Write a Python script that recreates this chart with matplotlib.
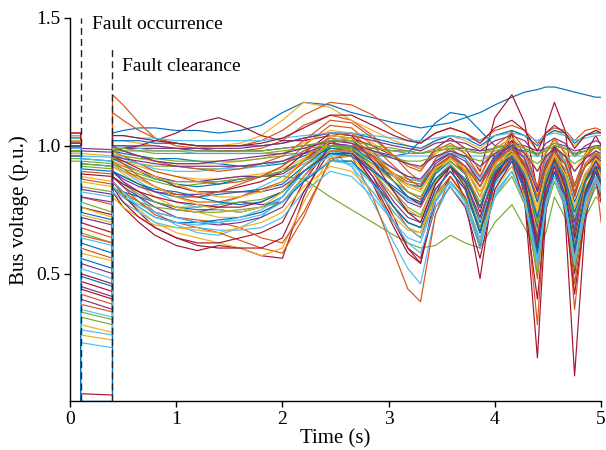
import matplotlib
matplotlib.use('Agg')
from matplotlib import pyplot as plt

MATLAB_COLORS = ['#0072BD', '#D95319', '#EDB120', '#7E2F8E', '#77AC30', '#4DBEEE', '#A2142F']

T_FAULT_ON = 0.1
T_FAULT_OFF = 0.4

# sample times after fault clearance (s)
T_POST = [0.4, 0.5, 0.65, 0.8, 1.0, 1.2, 1.4, 1.6,
          1.8, 2.0, 2.2, 2.45, 2.65, 2.85, 3.05, 3.18,
          3.3, 3.44, 3.58, 3.72, 3.86, 4.0, 4.16, 4.28,
          4.4, 4.48, 4.56, 4.66, 4.75, 4.85, 4.95, 5.0]

# bus voltage before the fault (p.u.)
PRE = [1.02, 1.05, 1.00, 0.99, 0.98, 0.97, 1.01, 0.99, 1.04, 1.03,
       0.96, 1.00, 1.01, 1.00, 0.98, 1.02, 0.99, 1.00, 0.97, 1.02,
       1.03, 1.03, 0.97, 1.01, 1.00, 0.95, 0.99, 1.02, 0.99, 1.04,
       1.00, 1.01, 0.98, 1.00, 0.99, 1.00, 0.98, 1.02, 0.99, 1.03,
       1.04, 1.00, 0.96, 1.01, 0.97, 1.02, 0.94, 1.03, 1.05, 1.00,
       0.99, 1.02, 1.01, 0.98, 0.99]

# bus voltage during the fault, at occurrence and at clearance
F_START = [0.95, 0.60, 0.97, 0.99, 0.78, 0.52, 0.03, 0.91, 0.42, 0.88,
           0.45, 0.84, 0.95, 0.70, 0.56, 0.80, 0.30, 0.72, 0.35, 0.64,
           0.50, 0.93, 0.38, 0.86, 0.40, 0.92, 0.23, 0.76, 0.74, 0.90,
           0.26, 0.98, 0.33, 0.82, 0.47, 0.62, 0.68, 0.58, 0.54, 0.66,
           0.96, 0.44, 0.00, 0.87, 0.76, 0.80, 0.93, 0.36, 0.89, 0.49,
           0.65, 0.73, 0.83, 0.94, 0.28]
F_END = [0.94, 0.56, 0.96, 0.985, 0.74, 0.48, 0.025, 0.90, 0.38, 0.86,
         0.41, 0.82, 0.94, 0.66, 0.52, 0.77, 0.27, 0.69, 0.32, 0.61,
         0.46, 0.92, 0.35, 0.84, 0.36, 0.91, 0.21, 0.73, 0.71, 0.89,
         0.24, 0.975, 0.30, 0.80, 0.43, 0.58, 0.64, 0.55, 0.50, 0.62,
         0.955, 0.40, 0.00, 0.85, 0.72, 0.78, 0.92, 0.33, 0.88, 0.45,
         0.62, 0.70, 0.81, 0.93, 0.26]

# post-fault trajectories, one per bus (p.u.)
B00 = [1.05, 1.06, 1.07, 1.07, 1.06, 1.06, 1.05, 1.06, 1.08, 1.13, 1.17, 1.16, 1.13, 1.11, 1.09, 1.08,
       1.07, 1.08, 1.09, 1.11, 1.13, 1.16, 1.19, 1.21, 1.22, 1.23, 1.23, 1.22, 1.21, 1.20, 1.19, 1.19]
B01 = [1.20, 1.16, 1.09, 1.03, 1.00, 0.99, 0.98, 0.98, 0.99, 1.02, 1.08, 1.12, 1.10, 1.04, 0.96, 0.90,
       0.86, 0.94, 0.98, 0.95, 0.88, 0.99, 1.03, 0.97, 0.84, 0.95, 1.00, 0.96, 0.85, 0.96, 1.00, 0.98]
B02 = [1.02, 1.02, 1.01, 1.00, 0.99, 0.99, 1.00, 1.01, 1.04, 1.10, 1.17, 1.15, 1.10, 1.06, 1.02, 1.00,
       0.98, 1.02, 1.04, 1.02, 0.99, 1.04, 1.06, 1.04, 0.98, 1.04, 1.06, 1.04, 1.00, 1.04, 1.06, 1.05]
B03 = [0.99, 0.99, 0.99, 0.99, 0.99, 0.98, 0.98, 0.98, 0.98, 0.99, 1.00, 1.01, 1.00, 0.99, 0.98, 0.98,
       0.97, 0.98, 0.99, 0.99, 0.98, 0.99, 1.01, 1.00, 0.98, 0.99, 1.01, 1.00, 0.98, 0.99, 1.00, 1.00]
B04 = [0.92, 0.90, 0.88, 0.86, 0.84, 0.85, 0.86, 0.87, 0.88, 0.88, 0.87, 0.80, 0.75, 0.70, 0.65, 0.62,
       0.60, 0.61, 0.65, 0.62, 0.60, 0.70, 0.77, 0.68, 0.58, 0.66, 0.80, 0.72, 0.62, 0.72, 0.80, 0.78]
B05 = [0.90, 0.86, 0.80, 0.74, 0.69, 0.66, 0.65, 0.68, 0.72, 0.80, 0.92, 0.98, 0.92, 0.78, 0.62, 0.52,
       0.46, 0.73, 0.85, 0.80, 0.68, 0.85, 0.92, 0.83, 0.62, 0.82, 0.90, 0.84, 0.70, 0.84, 0.90, 0.85]
B06 = [0.82, 0.76, 0.70, 0.65, 0.61, 0.59, 0.61, 0.60, 0.57, 0.56, 0.80, 1.02, 0.98, 0.85, 0.68, 0.58,
       0.54, 0.81, 0.92, 0.79, 0.48, 0.88, 1.05, 0.79, 0.17, 0.75, 1.00, 0.73, 0.10, 0.70, 0.95, 0.88]
B07 = [0.98, 0.97, 0.96, 0.95, 0.95, 0.94, 0.93, 0.92, 0.92, 0.93, 0.96, 1.00, 1.00, 0.98, 0.96, 0.97,
       1.02, 1.09, 1.13, 1.12, 1.06, 1.00, 0.99, 0.98, 0.97, 0.98, 1.00, 0.99, 0.97, 0.98, 1.00, 1.00]
B08 = [0.88, 0.84, 0.78, 0.73, 0.70, 0.68, 0.66, 0.63, 0.60, 0.58, 0.72, 0.95, 0.96, 0.80, 0.58, 0.44,
       0.39, 0.73, 0.88, 0.80, 0.60, 0.92, 1.06, 0.83, 0.30, 0.79, 1.00, 0.81, 0.36, 0.75, 0.92, 0.88]
B09 = [0.96, 0.94, 0.92, 0.90, 0.88, 0.87, 0.87, 0.88, 0.89, 0.91, 0.95, 1.00, 0.98, 0.92, 0.86, 0.82,
       0.80, 0.90, 0.95, 0.91, 0.82, 0.93, 0.98, 0.93, 0.80, 0.92, 0.97, 0.93, 0.84, 0.92, 0.96, 0.95]
B10 = [0.90, 0.86, 0.82, 0.78, 0.75, 0.74, 0.76, 0.78, 0.77, 0.78, 0.88, 1.00, 1.00, 0.90, 0.78, 0.72,
       0.70, 0.85, 0.92, 0.86, 0.72, 0.90, 0.98, 0.87, 0.62, 0.85, 0.95, 0.85, 0.60, 0.82, 0.92, 0.86]
B11 = [0.95, 0.94, 0.93, 0.92, 0.92, 0.91, 0.91, 0.92, 0.93, 0.94, 0.97, 1.01, 0.99, 0.94, 0.89, 0.87,
       0.86, 0.92, 0.95, 0.92, 0.86, 0.94, 0.98, 0.94, 0.84, 0.92, 0.96, 0.93, 0.85, 0.92, 0.95, 0.94]
B12 = [1.00, 1.00, 0.99, 0.98, 0.98, 0.97, 0.97, 0.97, 0.97, 0.97, 0.97, 0.965, 0.965, 0.96, 0.96, 0.96,
       0.96, 0.96, 0.96, 0.96, 0.96, 0.96, 0.96, 0.96, 0.96, 0.96, 0.96, 0.96, 0.96, 0.96, 0.96, 0.96]
B13 = [0.98, 0.99, 1.00, 1.02, 1.05, 1.09, 1.11, 1.08, 1.04, 1.02, 1.02, 1.04, 1.03, 1.00, 0.96, 0.93,
       0.91, 0.99, 1.03, 0.99, 0.90, 1.11, 1.20, 1.09, 0.82, 1.07, 1.17, 1.06, 0.80, 0.97, 1.04, 1.00]
B14 = [0.86, 0.82, 0.80, 0.78, 0.76, 0.75, 0.75, 0.74, 0.76, 0.80, 0.90, 0.98, 0.97, 0.90, 0.80, 0.74,
       0.72, 0.87, 0.93, 0.86, 0.70, 0.89, 0.97, 0.86, 0.60, 0.82, 0.92, 0.84, 0.64, 0.82, 0.90, 0.84]
B15 = [0.98, 0.96, 0.93, 0.90, 0.88, 0.86, 0.85, 0.86, 0.88, 0.92, 1.00, 1.08, 1.07, 1.00, 0.92, 0.87,
       0.84, 0.95, 0.99, 0.95, 0.84, 0.97, 1.02, 0.95, 0.78, 0.93, 1.00, 0.94, 0.80, 0.93, 0.98, 0.96]
B16 = [0.84, 0.80, 0.75, 0.70, 0.66, 0.64, 0.62, 0.60, 0.57, 0.60, 0.78, 0.96, 0.96, 0.86, 0.74, 0.68,
       0.66, 0.83, 0.90, 0.83, 0.66, 0.87, 0.96, 0.84, 0.56, 0.82, 0.93, 0.82, 0.56, 0.80, 0.90, 0.85]
B17 = [0.94, 0.92, 0.90, 0.88, 0.86, 0.86, 0.87, 0.88, 0.88, 0.89, 0.94, 1.02, 1.02, 0.96, 0.89, 0.85,
       0.83, 0.93, 0.97, 0.92, 0.80, 0.95, 1.01, 0.92, 0.72, 0.91, 0.99, 0.90, 0.70, 0.88, 0.96, 0.92]
B18 = [0.88, 0.85, 0.81, 0.78, 0.76, 0.76, 0.77, 0.78, 0.79, 0.82, 0.90, 0.99, 0.99, 0.91, 0.82, 0.76,
       0.73, 0.86, 0.92, 0.85, 0.68, 0.87, 0.95, 0.85, 0.60, 0.83, 0.93, 0.84, 0.62, 0.83, 0.92, 0.88]
B19 = [0.93, 0.90, 0.86, 0.82, 0.78, 0.76, 0.77, 0.80, 0.84, 0.88, 0.93, 0.98, 0.96, 0.90, 0.83, 0.79,
       0.77, 0.89, 0.94, 0.89, 0.76, 0.91, 0.98, 0.90, 0.72, 0.90, 0.97, 0.90, 0.74, 0.89, 0.95, 0.91]
B20 = [0.86, 0.81, 0.74, 0.68, 0.64, 0.62, 0.62, 0.64, 0.66, 0.70, 0.86, 1.00, 0.99, 0.88, 0.72, 0.60,
       0.54, 0.78, 0.88, 0.80, 0.60, 0.87, 0.98, 0.84, 0.52, 0.80, 0.92, 0.79, 0.50, 0.78, 0.90, 0.80]
B21 = [1.02, 1.02, 1.02, 1.01, 1.01, 1.00, 1.00, 1.00, 1.00, 1.01, 1.03, 1.05, 1.05, 1.03, 1.01, 1.00,
       0.99, 1.02, 1.04, 1.03, 1.00, 1.04, 1.06, 1.04, 1.00, 1.04, 1.06, 1.05, 1.01, 1.04, 1.05, 1.05]
B22 = [0.86, 0.82, 0.78, 0.74, 0.72, 0.71, 0.70, 0.68, 0.64, 0.62, 0.74, 0.94, 0.98, 0.90, 0.76, 0.68,
       0.64, 0.81, 0.88, 0.80, 0.62, 0.86, 0.96, 0.82, 0.48, 0.80, 0.94, 0.80, 0.46, 0.75, 0.88, 0.70]
B23 = [0.97, 0.96, 0.95, 0.94, 0.93, 0.93, 0.93, 0.94, 0.95, 0.97, 1.01, 1.06, 1.05, 1.01, 0.96, 0.93,
       0.91, 0.97, 1.00, 0.97, 0.91, 0.99, 1.03, 0.99, 0.90, 0.98, 1.02, 0.98, 0.90, 0.97, 1.00, 0.99]
B24 = [0.88, 0.84, 0.80, 0.76, 0.72, 0.70, 0.69, 0.70, 0.72, 0.76, 0.88, 0.98, 0.98, 0.88, 0.76, 0.70,
       0.68, 0.83, 0.90, 0.83, 0.66, 0.86, 0.95, 0.84, 0.58, 0.82, 0.92, 0.81, 0.56, 0.80, 0.90, 0.86]
B25 = [0.96, 0.96, 0.95, 0.95, 0.94, 0.94, 0.94, 0.94, 0.95, 0.96, 0.97, 0.99, 0.99, 0.97, 0.95, 0.94,
       0.94, 0.96, 0.97, 0.96, 0.94, 0.97, 0.98, 0.96, 0.93, 0.96, 0.97, 0.96, 0.93, 0.96, 0.97, 0.96]
B26 = [0.82, 0.78, 0.74, 0.70, 0.68, 0.68, 0.67, 0.67, 0.68, 0.72, 0.82, 0.90, 0.88, 0.80, 0.70, 0.64,
       0.62, 0.79, 0.86, 0.79, 0.64, 0.82, 0.90, 0.80, 0.56, 0.78, 0.88, 0.79, 0.58, 0.79, 0.88, 0.82]
B27 = [0.96, 0.94, 0.91, 0.88, 0.84, 0.82, 0.82, 0.84, 0.86, 0.90, 0.97, 1.05, 1.04, 0.96, 0.86, 0.80,
       0.77, 0.90, 0.96, 0.89, 0.74, 0.94, 1.02, 0.91, 0.66, 0.90, 1.00, 0.89, 0.64, 0.86, 0.96, 0.90]
B28 = [0.95, 0.93, 0.90, 0.87, 0.85, 0.84, 0.85, 0.87, 0.88, 0.90, 0.94, 0.99, 0.98, 0.93, 0.88, 0.85,
       0.84, 0.92, 0.96, 0.92, 0.84, 0.95, 0.99, 0.93, 0.78, 0.91, 0.97, 0.91, 0.78, 0.89, 0.94, 0.92]
B29 = [1.13, 1.10, 1.06, 1.03, 1.01, 1.00, 1.00, 1.00, 1.02, 1.06, 1.12, 1.17, 1.16, 1.12, 1.06, 1.03,
       1.01, 1.05, 1.07, 1.05, 1.02, 1.06, 1.08, 1.06, 1.01, 1.05, 1.07, 1.06, 1.02, 1.06, 1.07, 1.06]
B30 = [0.80, 0.76, 0.72, 0.69, 0.68, 0.67, 0.66, 0.68, 0.70, 0.74, 0.84, 0.92, 0.90, 0.82, 0.72, 0.67,
       0.66, 0.80, 0.86, 0.79, 0.62, 0.83, 0.92, 0.80, 0.52, 0.77, 0.88, 0.78, 0.54, 0.76, 0.86, 0.82]
B31 = [1.00, 1.00, 1.00, 1.00, 0.99, 0.99, 0.99, 0.99, 1.00, 1.01, 1.03, 1.05, 1.04, 1.02, 1.00, 0.99,
       0.98, 1.01, 1.02, 1.01, 0.98, 1.02, 1.04, 1.02, 0.96, 1.01, 1.03, 1.01, 0.96, 1.00, 1.02, 1.01]
B32 = [0.84, 0.81, 0.78, 0.76, 0.75, 0.74, 0.74, 0.75, 0.76, 0.78, 0.86, 0.94, 0.94, 0.86, 0.76, 0.70,
       0.68, 0.81, 0.86, 0.79, 0.62, 0.80, 0.88, 0.77, 0.50, 0.75, 0.86, 0.76, 0.52, 0.74, 0.84, 0.80]
B33 = [0.97, 0.95, 0.93, 0.91, 0.90, 0.90, 0.91, 0.91, 0.92, 0.94, 0.98, 1.03, 1.02, 0.97, 0.91, 0.88,
       0.86, 0.94, 0.98, 0.95, 0.87, 0.96, 1.00, 0.95, 0.84, 0.94, 0.98, 0.94, 0.84, 0.92, 0.96, 0.95]
B34 = [0.84, 0.78, 0.72, 0.68, 0.64, 0.61, 0.60, 0.60, 0.60, 0.64, 0.82, 0.98, 0.98, 0.86, 0.70, 0.60,
       0.56, 0.76, 0.84, 0.76, 0.56, 0.83, 0.94, 0.78, 0.40, 0.75, 0.90, 0.76, 0.42, 0.73, 0.86, 0.78]
B35 = [0.90, 0.88, 0.85, 0.82, 0.80, 0.80, 0.81, 0.82, 0.83, 0.85, 0.92, 1.00, 1.00, 0.94, 0.86, 0.80,
       0.78, 0.89, 0.94, 0.89, 0.76, 0.91, 0.98, 0.89, 0.68, 0.88, 0.96, 0.88, 0.68, 0.86, 0.94, 0.90]
B36 = [0.94, 0.91, 0.87, 0.84, 0.80, 0.78, 0.78, 0.80, 0.83, 0.86, 0.94, 1.04, 1.05, 0.98, 0.88, 0.82,
       0.79, 0.91, 0.96, 0.90, 0.76, 0.93, 1.00, 0.91, 0.70, 0.90, 0.98, 0.88, 0.66, 0.87, 0.96, 0.90]
B37 = [0.92, 0.89, 0.85, 0.80, 0.76, 0.74, 0.72, 0.72, 0.74, 0.78, 0.88, 0.98, 0.98, 0.90, 0.80, 0.75,
       0.72, 0.87, 0.93, 0.87, 0.72, 0.90, 0.97, 0.88, 0.66, 0.86, 0.95, 0.86, 0.66, 0.85, 0.93, 0.88]
B38 = [0.90, 0.87, 0.84, 0.82, 0.81, 0.81, 0.82, 0.82, 0.82, 0.84, 0.90, 0.97, 0.97, 0.91, 0.83, 0.78,
       0.76, 0.87, 0.92, 0.86, 0.72, 0.89, 0.96, 0.86, 0.64, 0.85, 0.94, 0.86, 0.66, 0.86, 0.94, 0.90]
B39 = [0.93, 0.91, 0.89, 0.87, 0.86, 0.86, 0.86, 0.87, 0.88, 0.90, 0.94, 1.00, 0.99, 0.93, 0.86, 0.82,
       0.80, 0.90, 0.94, 0.89, 0.78, 0.91, 0.96, 0.88, 0.70, 0.87, 0.94, 0.87, 0.72, 0.86, 0.92, 0.90]
B40 = [1.04, 1.04, 1.03, 1.03, 1.02, 1.02, 1.02, 1.02, 1.02, 1.03, 1.04, 1.05, 1.05, 1.04, 1.03, 1.02,
       1.02, 1.03, 1.04, 1.03, 1.02, 1.04, 1.05, 1.04, 1.02, 1.04, 1.05, 1.04, 1.02, 1.03, 1.04, 1.04]
B41 = [0.88, 0.85, 0.82, 0.80, 0.78, 0.77, 0.76, 0.76, 0.78, 0.82, 0.92, 1.02, 1.03, 0.94, 0.82, 0.74,
       0.70, 0.85, 0.92, 0.84, 0.66, 0.88, 0.98, 0.87, 0.60, 0.85, 0.95, 0.84, 0.58, 0.82, 0.92, 0.84]
B42 = [0.84, 0.80, 0.76, 0.72, 0.70, 0.70, 0.71, 0.72, 0.74, 0.78, 0.86, 0.94, 0.94, 0.86, 0.76, 0.70,
       0.68, 0.83, 0.90, 0.83, 0.66, 0.86, 0.94, 0.83, 0.58, 0.80, 0.90, 0.81, 0.60, 0.81, 0.90, 0.86]
B43 = [0.99, 0.98, 0.96, 0.94, 0.92, 0.91, 0.90, 0.91, 0.93, 0.96, 1.02, 1.10, 1.09, 1.03, 0.96, 0.92,
       0.90, 0.98, 1.01, 0.97, 0.88, 1.00, 1.05, 0.99, 0.84, 0.97, 1.03, 0.97, 0.84, 0.95, 1.00, 0.98]
B44 = [0.94, 0.92, 0.90, 0.88, 0.85, 0.82, 0.80, 0.80, 0.82, 0.86, 0.95, 1.04, 1.03, 0.96, 0.88, 0.84,
       0.82, 0.91, 0.95, 0.91, 0.80, 0.93, 0.98, 0.91, 0.74, 0.90, 0.97, 0.91, 0.76, 0.89, 0.95, 0.92]
B45 = [0.96, 0.95, 0.94, 0.93, 0.92, 0.92, 0.92, 0.92, 0.93, 0.94, 0.97, 1.01, 1.00, 0.96, 0.91, 0.88,
       0.87, 0.94, 0.97, 0.94, 0.86, 0.96, 1.00, 0.95, 0.82, 0.93, 0.98, 0.93, 0.82, 0.92, 0.96, 0.94]
B46 = [0.98, 0.98, 0.98, 0.97, 0.97, 0.97, 0.97, 0.97, 0.97, 0.98, 0.99, 1.00, 1.00, 0.99, 0.98, 0.97,
       0.97, 0.98, 0.99, 0.98, 0.97, 0.98, 1.00, 0.99, 0.97, 0.98, 1.00, 0.99, 0.97, 0.98, 0.99, 0.99]
B47 = [0.86, 0.82, 0.76, 0.72, 0.70, 0.69, 0.70, 0.72, 0.75, 0.80, 0.90, 0.96, 0.92, 0.82, 0.70, 0.62,
       0.58, 0.76, 0.84, 0.77, 0.60, 0.81, 0.90, 0.78, 0.54, 0.78, 0.88, 0.78, 0.56, 0.78, 0.88, 0.84]
B48 = [1.04, 1.04, 1.03, 1.02, 1.01, 1.00, 1.00, 1.00, 1.01, 1.03, 1.07, 1.12, 1.12, 1.08, 1.04, 1.02,
       1.01, 1.05, 1.07, 1.05, 1.01, 1.07, 1.10, 1.06, 0.98, 1.05, 1.08, 1.05, 0.99, 1.04, 1.06, 1.05]
B49 = [0.90, 0.88, 0.85, 0.83, 0.82, 0.80, 0.78, 0.77, 0.78, 0.82, 0.90, 0.97, 0.96, 0.90, 0.84, 0.80,
       0.78, 0.87, 0.92, 0.87, 0.76, 0.90, 0.96, 0.88, 0.72, 0.86, 0.94, 0.87, 0.74, 0.86, 0.92, 0.90]
B50 = [0.96, 0.93, 0.88, 0.84, 0.81, 0.80, 0.82, 0.85, 0.88, 0.92, 0.98, 1.03, 1.01, 0.95, 0.89, 0.86,
       0.85, 0.92, 0.96, 0.92, 0.84, 0.94, 0.99, 0.93, 0.80, 0.92, 0.98, 0.93, 0.82, 0.92, 0.97, 0.95]
B51 = [0.92, 0.90, 0.87, 0.84, 0.80, 0.77, 0.75, 0.74, 0.76, 0.82, 0.92, 1.02, 1.03, 0.97, 0.89, 0.85,
       0.83, 0.91, 0.95, 0.91, 0.82, 0.92, 0.97, 0.90, 0.76, 0.89, 0.96, 0.89, 0.76, 0.88, 0.95, 0.93]
B52 = [1.00, 0.98, 0.96, 0.94, 0.93, 0.93, 0.94, 0.95, 0.96, 0.97, 0.99, 1.02, 1.01, 0.98, 0.95, 0.93,
       0.92, 0.96, 0.98, 0.96, 0.92, 0.97, 1.00, 0.97, 0.90, 0.96, 0.99, 0.96, 0.90, 0.95, 0.98, 0.97]
B53 = [0.99, 0.99, 0.98, 0.98, 0.98, 0.98, 0.98, 0.98, 0.98, 0.99, 1.00, 1.02, 1.02, 1.00, 0.99, 0.98,
       0.97, 0.99, 1.00, 0.99, 0.97, 0.99, 1.01, 0.99, 0.96, 0.99, 1.01, 0.99, 0.96, 0.98, 1.00, 0.99]
B54 = [0.84, 0.80, 0.77, 0.74, 0.72, 0.70, 0.70, 0.71, 0.73, 0.78, 0.87, 0.94, 0.93, 0.85, 0.74, 0.68,
       0.64, 0.78, 0.86, 0.78, 0.62, 0.80, 0.90, 0.78, 0.54, 0.76, 0.88, 0.76, 0.54, 0.74, 0.86, 0.82]

BUSES = [B00, B01, B02, B03, B04, B05, B06, B07, B08, B09,
         B10, B11, B12, B13, B14, B15, B16, B17, B18, B19,
         B20, B21, B22, B23, B24, B25, B26, B27, B28, B29,
         B30, B31, B32, B33, B34, B35, B36, B37, B38, B39,
         B40, B41, B42, B43, B44, B45, B46, B47, B48, B49,
         B50, B51, B52, B53, B54]

plt.rcParams['font.family'] = ['Liberation Serif', 'DejaVu Serif']
plt.rcParams['font.size'] = 14

fig, ax = plt.subplots(figsize=(6.06, 4.5), dpi=100)
fig.subplots_adjust(left=0.1155, right=0.992, bottom=0.108, top=0.96)

for i, post in enumerate(BUSES):
    assert len(post) == len(T_POST), i
    t = [0.0, T_FAULT_ON, T_FAULT_ON, T_FAULT_OFF] + T_POST
    v = [PRE[i], PRE[i], F_START[i], F_END[i]] + post
    ax.plot(t, v, lw=0.85, color=MATLAB_COLORS[i % len(MATLAB_COLORS)], solid_joinstyle='round')

# fault markers
ax.plot([T_FAULT_ON, T_FAULT_ON], [0, 1.5], color='#222222', ls=(0, (5, 3)), lw=1.0, zorder=5)
ax.plot([T_FAULT_OFF, T_FAULT_OFF], [0, 1.385], color='#222222', ls=(0, (5, 3)), lw=1.0, zorder=5)
ax.text(0.205, 1.476, 'Fault occurrence', va='center', ha='left')
ax.text(0.49, 1.31, 'Fault clearance', va='center', ha='left')

ax.set_xlim(0, 5)
ax.set_ylim(0, 1.5)
ax.set_xticks([0, 1, 2, 3, 4, 5])
ax.set_yticks([0.5, 1.0, 1.5])
ax.set_yticklabels(['0.5', '1.0', '1.5'])
ax.tick_params(direction='out', length=4, width=1, pad=3)
for side in ['top', 'right']:
    ax.spines[side].set_visible(False)
for side in ['left', 'bottom']:
    ax.spines[side].set_linewidth(1.0)

ax.set_xlabel('Time (s)', fontsize=15, labelpad=1)
ax.set_ylabel('Bus voltage (p.u.)', fontsize=15, labelpad=5)

fig.savefig('out.png', dpi=100)
